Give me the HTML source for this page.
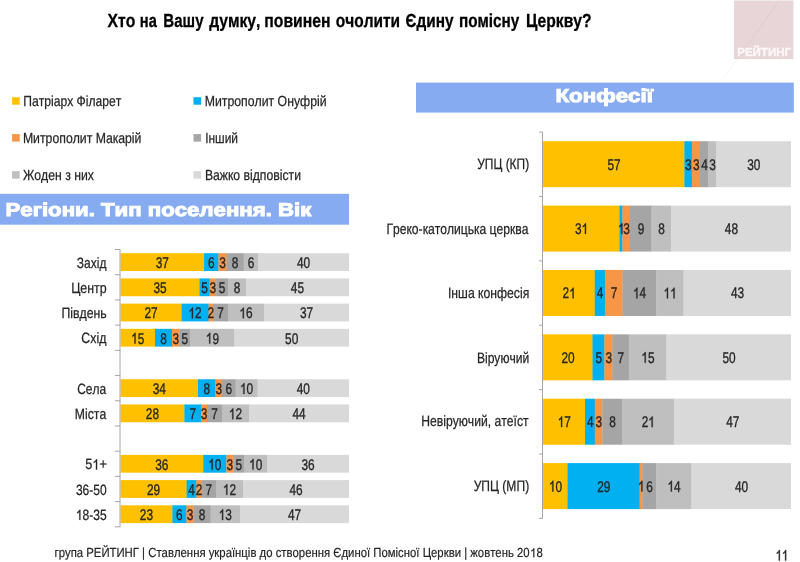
<!DOCTYPE html>
<html><head><meta charset="utf-8"><style>
html,body{margin:0;padding:0;background:#fff;}
svg{display:block;font-family:"Liberation Sans", sans-serif;will-change:transform;font-kerning:none;text-rendering:geometricPrecision;}
</style></head><body>
<svg width="800" height="562" viewBox="0 0 800 562">
<rect width="800" height="562" fill="#fff"/>

<rect x="734.00" y="0.50" width="59.40" height="58.60" fill="#e7d5d8" />
<line x1="779.20" y1="0.50" x2="737.50" y2="59.00" stroke="#ddcbce" stroke-width="0.80" />
<text transform="translate(737.23 56.20) scale(0.9928 1)" font-size="11.60" font-weight="bold" fill="#fcf7f7" stroke="#fcf7f7" stroke-width="0.40">РЕЙТИНГ</text>
<line x1="737.50" y1="59.00" x2="724.00" y2="78.00" stroke="#f0f0f0" stroke-width="0.70" />
<text transform="translate(107.61 26.50) scale(0.8307 1)" font-size="18.90" font-weight="bold" fill="#000" stroke="#000" stroke-width="0.30">Хто</text>
<text transform="translate(139.83 26.50) scale(0.7743 1)" font-size="18.90" font-weight="bold" fill="#000" stroke="#000" stroke-width="0.30">на</text>
<text transform="translate(163.34 26.50) scale(0.7970 1)" font-size="18.90" font-weight="bold" fill="#000" stroke="#000" stroke-width="0.30">Вашу</text>
<text transform="translate(209.24 26.50) scale(0.8289 1)" font-size="18.90" font-weight="bold" fill="#000" stroke="#000" stroke-width="0.30">думку,</text>
<text transform="translate(264.25 26.50) scale(0.8335 1)" font-size="18.90" font-weight="bold" fill="#000" stroke="#000" stroke-width="0.30">повинен</text>
<text transform="translate(335.75 26.50) scale(0.8195 1)" font-size="18.90" font-weight="bold" fill="#000" stroke="#000" stroke-width="0.30">очолити</text>
<text transform="translate(405.62 26.50) scale(0.8139 1)" font-size="18.90" font-weight="bold" fill="#000" stroke="#000" stroke-width="0.30">Єдину</text>
<text transform="translate(458.98 26.50) scale(0.8093 1)" font-size="18.90" font-weight="bold" fill="#000" stroke="#000" stroke-width="0.30">помісну</text>
<text transform="translate(526.10 26.50) scale(0.8285 1)" font-size="18.90" font-weight="bold" fill="#000" stroke="#000" stroke-width="0.30">Церкву?</text>
<rect x="12.10" y="97.20" width="7.60" height="7.50" fill="#ffc000" />
<text transform="translate(23.22 105.60) scale(0.8309 1)" font-size="14.60" font-weight="normal" fill="#262626" stroke="#262626" stroke-width="0.25">Патріарх Філарет</text>
<rect x="193.50" y="97.20" width="7.60" height="7.50" fill="#00b0f0" />
<text transform="translate(204.69 105.60) scale(0.8415 1)" font-size="14.60" font-weight="normal" fill="#262626" stroke="#262626" stroke-width="0.25">Митрополит Онуфрій</text>
<rect x="12.10" y="134.10" width="7.60" height="7.50" fill="#f79646" />
<text transform="translate(22.89 142.60) scale(0.8409 1)" font-size="14.60" font-weight="normal" fill="#262626" stroke="#262626" stroke-width="0.25">Митрополит Макарій</text>
<rect x="193.50" y="134.10" width="7.60" height="7.50" fill="#a5a5a5" />
<text transform="translate(205.20 142.60) scale(0.8178 1)" font-size="14.60" font-weight="normal" fill="#262626" stroke="#262626" stroke-width="0.25">Інший</text>
<rect x="12.10" y="171.20" width="7.60" height="7.50" fill="#bfbfbf" />
<text transform="translate(22.93 179.90) scale(0.8390 1)" font-size="14.60" font-weight="normal" fill="#262626" stroke="#262626" stroke-width="0.25">Жоден з них</text>
<rect x="193.50" y="171.20" width="7.60" height="7.50" fill="#d9d9d9" />
<text transform="translate(204.90 179.90) scale(0.8370 1)" font-size="14.60" font-weight="normal" fill="#262626" stroke="#262626" stroke-width="0.25">Важко відповісти</text>
<rect x="0.00" y="193.80" width="349.00" height="30.90" fill="#86abf1" />
<text transform="translate(5.51 215.90) scale(1.1937 1)" font-size="18.60" font-weight="bold" fill="#fff" stroke="#fff" stroke-width="1.00">Регіони. Тип поселення. Вік</text>
<rect x="416.00" y="82.60" width="377.80" height="30.00" fill="#86abf1" />
<text transform="translate(555.51 102.40) scale(1.1990 1)" font-size="18.60" font-weight="bold" fill="#fff" stroke="#fff" stroke-width="1.00">Конфесії</text>
<rect x="120.50" y="253.20" width="83.90" height="17.80" fill="#ffc000" />
<rect x="204.10" y="253.20" width="14.60" height="17.80" fill="#00b0f0" />
<rect x="218.40" y="253.20" width="8.50" height="17.80" fill="#f79646" />
<rect x="226.60" y="253.20" width="17.40" height="17.80" fill="#a5a5a5" />
<rect x="243.70" y="253.20" width="14.80" height="17.80" fill="#bfbfbf" />
<rect x="258.20" y="253.20" width="90.80" height="17.80" fill="#d9d9d9" />
<text transform="translate(155.71 267.90) scale(0.7650 1)" font-size="15.50" fill="#262626" stroke="#262626" stroke-width="0.35">3</text>
<text transform="translate(162.30 267.90) scale(0.7650 1)" font-size="15.50" fill="#262626" stroke="#262626" stroke-width="0.35">7</text>
<text transform="translate(207.95 267.90) scale(0.7650 1)" font-size="15.50" fill="#262626" stroke="#262626" stroke-width="0.35">6</text>
<text transform="translate(219.20 267.90) scale(0.7650 1)" font-size="15.50" fill="#262626" stroke="#262626" stroke-width="0.35">3</text>
<text transform="translate(231.85 267.90) scale(0.7650 1)" font-size="15.50" fill="#262626" stroke="#262626" stroke-width="0.35">8</text>
<text transform="translate(247.65 267.90) scale(0.7650 1)" font-size="15.50" fill="#262626" stroke="#262626" stroke-width="0.35">6</text>
<text transform="translate(297.01 267.90) scale(0.7650 1)" font-size="15.50" fill="#262626" stroke="#262626" stroke-width="0.35">4</text>
<text transform="translate(303.60 267.90) scale(0.7650 1)" font-size="15.50" fill="#262626" stroke="#262626" stroke-width="0.35">0</text>
<text transform="translate(76.81 267.80) scale(0.8056 1)" font-size="14.90" font-weight="normal" fill="#262626" stroke="#262626" stroke-width="0.25">Захід</text>
<rect x="120.50" y="278.41" width="79.30" height="17.80" fill="#ffc000" />
<rect x="199.50" y="278.41" width="10.40" height="17.80" fill="#00b0f0" />
<rect x="209.60" y="278.41" width="6.90" height="17.80" fill="#f79646" />
<rect x="216.20" y="278.41" width="12.20" height="17.80" fill="#a5a5a5" />
<rect x="228.10" y="278.41" width="18.10" height="17.80" fill="#bfbfbf" />
<rect x="245.90" y="278.41" width="103.10" height="17.80" fill="#d9d9d9" />
<text transform="translate(153.41 293.11) scale(0.7650 1)" font-size="15.50" fill="#262626" stroke="#262626" stroke-width="0.35">3</text>
<text transform="translate(160.00 293.11) scale(0.7650 1)" font-size="15.50" fill="#262626" stroke="#262626" stroke-width="0.35">5</text>
<text transform="translate(201.25 293.11) scale(0.7650 1)" font-size="15.50" fill="#262626" stroke="#262626" stroke-width="0.35">5</text>
<text transform="translate(209.60 293.11) scale(0.7650 1)" font-size="15.50" fill="#262626" stroke="#262626" stroke-width="0.35">3</text>
<text transform="translate(218.85 293.11) scale(0.7650 1)" font-size="15.50" fill="#262626" stroke="#262626" stroke-width="0.35">5</text>
<text transform="translate(233.70 293.11) scale(0.7650 1)" font-size="15.50" fill="#262626" stroke="#262626" stroke-width="0.35">8</text>
<text transform="translate(290.86 293.11) scale(0.7650 1)" font-size="15.50" fill="#262626" stroke="#262626" stroke-width="0.35">4</text>
<text transform="translate(297.45 293.11) scale(0.7650 1)" font-size="15.50" fill="#262626" stroke="#262626" stroke-width="0.35">5</text>
<text transform="translate(71.18 293.01) scale(0.8333 1)" font-size="14.90" font-weight="normal" fill="#262626" stroke="#262626" stroke-width="0.25">Центр</text>
<rect x="120.50" y="303.62" width="61.40" height="17.80" fill="#ffc000" />
<rect x="181.60" y="303.62" width="27.30" height="17.80" fill="#00b0f0" />
<rect x="208.60" y="303.62" width="4.70" height="17.80" fill="#f79646" />
<rect x="213.00" y="303.62" width="15.30" height="17.80" fill="#a5a5a5" />
<rect x="228.00" y="303.62" width="36.30" height="17.80" fill="#bfbfbf" />
<rect x="264.00" y="303.62" width="85.00" height="17.80" fill="#d9d9d9" />
<text transform="translate(144.46 318.32) scale(0.7650 1)" font-size="15.50" fill="#262626" stroke="#262626" stroke-width="0.35">2</text>
<text transform="translate(151.05 318.32) scale(0.7650 1)" font-size="15.50" fill="#262626" stroke="#262626" stroke-width="0.35">7</text>
<path d="M763 0L583 0L583 1147Q518 1085 412.5 1023Q307 961 223 930L223 1104Q374 1175 472.5 1263Q571 1351 627 1466L763 1466Z" transform="translate(188.51 318.32) scale(0.00579 -0.00727)" fill="#262626" stroke="#262626" stroke-width="0.35" vector-effect="non-scaling-stroke"/>
<text transform="translate(195.10 318.32) scale(0.7650 1)" font-size="15.50" fill="#262626" stroke="#262626" stroke-width="0.35">2</text>
<text transform="translate(207.50 318.32) scale(0.7650 1)" font-size="15.50" fill="#262626" stroke="#262626" stroke-width="0.35">2</text>
<text transform="translate(217.20 318.32) scale(0.7650 1)" font-size="15.50" fill="#262626" stroke="#262626" stroke-width="0.35">7</text>
<path d="M763 0L583 0L583 1147Q518 1085 412.5 1023Q307 961 223 930L223 1104Q374 1175 472.5 1263Q571 1351 627 1466L763 1466Z" transform="translate(239.41 318.32) scale(0.00579 -0.00727)" fill="#262626" stroke="#262626" stroke-width="0.35" vector-effect="non-scaling-stroke"/>
<text transform="translate(246.00 318.32) scale(0.7650 1)" font-size="15.50" fill="#262626" stroke="#262626" stroke-width="0.35">6</text>
<text transform="translate(299.91 318.32) scale(0.7650 1)" font-size="15.50" fill="#262626" stroke="#262626" stroke-width="0.35">3</text>
<text transform="translate(306.50 318.32) scale(0.7650 1)" font-size="15.50" fill="#262626" stroke="#262626" stroke-width="0.35">7</text>
<text transform="translate(61.40 318.22) scale(0.8250 1)" font-size="14.90" font-weight="normal" fill="#262626" stroke="#262626" stroke-width="0.25">Південь</text>
<rect x="120.50" y="328.83" width="34.80" height="17.80" fill="#ffc000" />
<rect x="155.00" y="328.83" width="17.30" height="17.80" fill="#00b0f0" />
<rect x="172.00" y="328.83" width="7.70" height="17.80" fill="#f79646" />
<rect x="179.40" y="328.83" width="11.30" height="17.80" fill="#a5a5a5" />
<rect x="190.40" y="328.83" width="44.30" height="17.80" fill="#bfbfbf" />
<rect x="234.40" y="328.83" width="114.60" height="17.80" fill="#d9d9d9" />
<path d="M763 0L583 0L583 1147Q518 1085 412.5 1023Q307 961 223 930L223 1104Q374 1175 472.5 1263Q571 1351 627 1466L763 1466Z" transform="translate(131.16 343.53) scale(0.00579 -0.00727)" fill="#262626" stroke="#262626" stroke-width="0.35" vector-effect="non-scaling-stroke"/>
<text transform="translate(137.75 343.53) scale(0.7650 1)" font-size="15.50" fill="#262626" stroke="#262626" stroke-width="0.35">5</text>
<text transform="translate(160.20 343.53) scale(0.7650 1)" font-size="15.50" fill="#262626" stroke="#262626" stroke-width="0.35">8</text>
<text transform="translate(172.40 343.53) scale(0.7650 1)" font-size="15.50" fill="#262626" stroke="#262626" stroke-width="0.35">3</text>
<text transform="translate(181.60 343.53) scale(0.7650 1)" font-size="15.50" fill="#262626" stroke="#262626" stroke-width="0.35">5</text>
<path d="M763 0L583 0L583 1147Q518 1085 412.5 1023Q307 961 223 930L223 1104Q374 1175 472.5 1263Q571 1351 627 1466L763 1466Z" transform="translate(205.81 343.53) scale(0.00579 -0.00727)" fill="#262626" stroke="#262626" stroke-width="0.35" vector-effect="non-scaling-stroke"/>
<text transform="translate(212.40 343.53) scale(0.7650 1)" font-size="15.50" fill="#262626" stroke="#262626" stroke-width="0.35">9</text>
<text transform="translate(285.11 343.53) scale(0.7650 1)" font-size="15.50" fill="#262626" stroke="#262626" stroke-width="0.35">5</text>
<text transform="translate(291.70 343.53) scale(0.7650 1)" font-size="15.50" fill="#262626" stroke="#262626" stroke-width="0.35">0</text>
<text transform="translate(81.37 343.43) scale(0.8287 1)" font-size="14.90" font-weight="normal" fill="#262626" stroke="#262626" stroke-width="0.25">Схід</text>
<rect x="120.50" y="379.25" width="77.80" height="17.80" fill="#ffc000" />
<rect x="198.00" y="379.25" width="17.70" height="17.80" fill="#00b0f0" />
<rect x="215.40" y="379.25" width="6.90" height="17.80" fill="#f79646" />
<rect x="222.00" y="379.25" width="13.90" height="17.80" fill="#a5a5a5" />
<rect x="235.60" y="379.25" width="22.30" height="17.80" fill="#bfbfbf" />
<rect x="257.60" y="379.25" width="91.40" height="17.80" fill="#d9d9d9" />
<text transform="translate(152.66 393.95) scale(0.7650 1)" font-size="15.50" fill="#262626" stroke="#262626" stroke-width="0.35">3</text>
<text transform="translate(159.25 393.95) scale(0.7650 1)" font-size="15.50" fill="#262626" stroke="#262626" stroke-width="0.35">4</text>
<text transform="translate(203.40 393.95) scale(0.7650 1)" font-size="15.50" fill="#262626" stroke="#262626" stroke-width="0.35">8</text>
<text transform="translate(215.40 393.95) scale(0.7650 1)" font-size="15.50" fill="#262626" stroke="#262626" stroke-width="0.35">3</text>
<text transform="translate(225.50 393.95) scale(0.7650 1)" font-size="15.50" fill="#262626" stroke="#262626" stroke-width="0.35">6</text>
<path d="M763 0L583 0L583 1147Q518 1085 412.5 1023Q307 961 223 930L223 1104Q374 1175 472.5 1263Q571 1351 627 1466L763 1466Z" transform="translate(240.01 393.95) scale(0.00579 -0.00727)" fill="#262626" stroke="#262626" stroke-width="0.35" vector-effect="non-scaling-stroke"/>
<text transform="translate(246.60 393.95) scale(0.7650 1)" font-size="15.50" fill="#262626" stroke="#262626" stroke-width="0.35">0</text>
<text transform="translate(296.71 393.95) scale(0.7650 1)" font-size="15.50" fill="#262626" stroke="#262626" stroke-width="0.35">4</text>
<text transform="translate(303.30 393.95) scale(0.7650 1)" font-size="15.50" fill="#262626" stroke="#262626" stroke-width="0.35">0</text>
<text transform="translate(77.19 393.85) scale(0.8052 1)" font-size="14.90" font-weight="normal" fill="#262626" stroke="#262626" stroke-width="0.25">Села</text>
<rect x="120.50" y="404.46" width="64.20" height="17.80" fill="#ffc000" />
<rect x="184.40" y="404.46" width="16.90" height="17.80" fill="#00b0f0" />
<rect x="201.00" y="404.46" width="6.30" height="17.80" fill="#f79646" />
<rect x="207.00" y="404.46" width="15.30" height="17.80" fill="#a5a5a5" />
<rect x="222.00" y="404.46" width="27.30" height="17.80" fill="#bfbfbf" />
<rect x="249.00" y="404.46" width="100.00" height="17.80" fill="#d9d9d9" />
<text transform="translate(145.86 419.16) scale(0.7650 1)" font-size="15.50" fill="#262626" stroke="#262626" stroke-width="0.35">2</text>
<text transform="translate(152.45 419.16) scale(0.7650 1)" font-size="15.50" fill="#262626" stroke="#262626" stroke-width="0.35">8</text>
<text transform="translate(189.40 419.16) scale(0.7650 1)" font-size="15.50" fill="#262626" stroke="#262626" stroke-width="0.35">7</text>
<text transform="translate(200.70 419.16) scale(0.7650 1)" font-size="15.50" fill="#262626" stroke="#262626" stroke-width="0.35">3</text>
<text transform="translate(211.20 419.16) scale(0.7650 1)" font-size="15.50" fill="#262626" stroke="#262626" stroke-width="0.35">7</text>
<path d="M763 0L583 0L583 1147Q518 1085 412.5 1023Q307 961 223 930L223 1104Q374 1175 472.5 1263Q571 1351 627 1466L763 1466Z" transform="translate(228.91 419.16) scale(0.00579 -0.00727)" fill="#262626" stroke="#262626" stroke-width="0.35" vector-effect="non-scaling-stroke"/>
<text transform="translate(235.50 419.16) scale(0.7650 1)" font-size="15.50" fill="#262626" stroke="#262626" stroke-width="0.35">2</text>
<text transform="translate(292.41 419.16) scale(0.7650 1)" font-size="15.50" fill="#262626" stroke="#262626" stroke-width="0.35">4</text>
<text transform="translate(299.00 419.16) scale(0.7650 1)" font-size="15.50" fill="#262626" stroke="#262626" stroke-width="0.35">4</text>
<text transform="translate(74.80 419.06) scale(0.8203 1)" font-size="14.90" font-weight="normal" fill="#262626" stroke="#262626" stroke-width="0.25">Міста</text>
<rect x="120.50" y="454.88" width="83.00" height="17.80" fill="#ffc000" />
<rect x="203.20" y="454.88" width="23.50" height="17.80" fill="#00b0f0" />
<rect x="226.40" y="454.88" width="7.30" height="17.80" fill="#f79646" />
<rect x="233.40" y="454.88" width="11.30" height="17.80" fill="#a5a5a5" />
<rect x="244.40" y="454.88" width="22.90" height="17.80" fill="#bfbfbf" />
<rect x="267.00" y="454.88" width="82.00" height="17.80" fill="#d9d9d9" />
<text transform="translate(155.26 469.58) scale(0.7650 1)" font-size="15.50" fill="#262626" stroke="#262626" stroke-width="0.35">3</text>
<text transform="translate(161.85 469.58) scale(0.7650 1)" font-size="15.50" fill="#262626" stroke="#262626" stroke-width="0.35">6</text>
<path d="M763 0L583 0L583 1147Q518 1085 412.5 1023Q307 961 223 930L223 1104Q374 1175 472.5 1263Q571 1351 627 1466L763 1466Z" transform="translate(208.21 469.58) scale(0.00579 -0.00727)" fill="#262626" stroke="#262626" stroke-width="0.35" vector-effect="non-scaling-stroke"/>
<text transform="translate(214.80 469.58) scale(0.7650 1)" font-size="15.50" fill="#262626" stroke="#262626" stroke-width="0.35">0</text>
<text transform="translate(226.60 469.58) scale(0.7650 1)" font-size="15.50" fill="#262626" stroke="#262626" stroke-width="0.35">3</text>
<text transform="translate(235.60 469.58) scale(0.7650 1)" font-size="15.50" fill="#262626" stroke="#262626" stroke-width="0.35">5</text>
<path d="M763 0L583 0L583 1147Q518 1085 412.5 1023Q307 961 223 930L223 1104Q374 1175 472.5 1263Q571 1351 627 1466L763 1466Z" transform="translate(249.11 469.58) scale(0.00579 -0.00727)" fill="#262626" stroke="#262626" stroke-width="0.35" vector-effect="non-scaling-stroke"/>
<text transform="translate(255.70 469.58) scale(0.7650 1)" font-size="15.50" fill="#262626" stroke="#262626" stroke-width="0.35">0</text>
<text transform="translate(301.41 469.58) scale(0.7650 1)" font-size="15.50" fill="#262626" stroke="#262626" stroke-width="0.35">3</text>
<text transform="translate(308.00 469.58) scale(0.7650 1)" font-size="15.50" fill="#262626" stroke="#262626" stroke-width="0.35">6</text>
<g transform="translate(85.29 469.48) scale(0.8520 1)" font-size="14.90" fill="#262626"><text x="0.000" y="0" stroke="#262626" stroke-width="0.25">5</text><path d="M763 0L583 0L583 1147Q518 1085 412.5 1023Q307 961 223 930L223 1104Q374 1175 472.5 1263Q571 1351 627 1466L763 1466Z" transform="translate(8.287 0) scale(0.00728 -0.00699)" stroke="#262626" stroke-width="0.25" vector-effect="non-scaling-stroke"/><text x="16.573" y="0" stroke="#262626" stroke-width="0.25">+</text></g>
<rect x="120.50" y="480.09" width="66.40" height="17.80" fill="#ffc000" />
<rect x="186.60" y="480.09" width="10.10" height="17.80" fill="#00b0f0" />
<rect x="196.40" y="480.09" width="5.50" height="17.80" fill="#f79646" />
<rect x="201.60" y="480.09" width="14.70" height="17.80" fill="#a5a5a5" />
<rect x="216.00" y="480.09" width="27.30" height="17.80" fill="#bfbfbf" />
<rect x="243.00" y="480.09" width="106.00" height="17.80" fill="#d9d9d9" />
<text transform="translate(146.96 494.79) scale(0.7650 1)" font-size="15.50" fill="#262626" stroke="#262626" stroke-width="0.35">2</text>
<text transform="translate(153.55 494.79) scale(0.7650 1)" font-size="15.50" fill="#262626" stroke="#262626" stroke-width="0.35">9</text>
<text transform="translate(188.20 494.79) scale(0.7650 1)" font-size="15.50" fill="#262626" stroke="#262626" stroke-width="0.35">4</text>
<text transform="translate(195.70 494.79) scale(0.7650 1)" font-size="15.50" fill="#262626" stroke="#262626" stroke-width="0.35">2</text>
<text transform="translate(205.50 494.79) scale(0.7650 1)" font-size="15.50" fill="#262626" stroke="#262626" stroke-width="0.35">7</text>
<path d="M763 0L583 0L583 1147Q518 1085 412.5 1023Q307 961 223 930L223 1104Q374 1175 472.5 1263Q571 1351 627 1466L763 1466Z" transform="translate(222.91 494.79) scale(0.00579 -0.00727)" fill="#262626" stroke="#262626" stroke-width="0.35" vector-effect="non-scaling-stroke"/>
<text transform="translate(229.50 494.79) scale(0.7650 1)" font-size="15.50" fill="#262626" stroke="#262626" stroke-width="0.35">2</text>
<text transform="translate(289.41 494.79) scale(0.7650 1)" font-size="15.50" fill="#262626" stroke="#262626" stroke-width="0.35">4</text>
<text transform="translate(296.00 494.79) scale(0.7650 1)" font-size="15.50" fill="#262626" stroke="#262626" stroke-width="0.35">6</text>
<text transform="translate(75.94 494.69) scale(0.8063 1)" font-size="14.90" font-weight="normal" fill="#262626" stroke="#262626" stroke-width="0.25">36-50</text>
<rect x="120.50" y="505.30" width="52.20" height="17.80" fill="#ffc000" />
<rect x="172.40" y="505.30" width="14.30" height="17.80" fill="#00b0f0" />
<rect x="186.40" y="505.30" width="7.50" height="17.80" fill="#f79646" />
<rect x="193.60" y="505.30" width="17.30" height="17.80" fill="#a5a5a5" />
<rect x="210.60" y="505.30" width="29.70" height="17.80" fill="#bfbfbf" />
<rect x="240.00" y="505.30" width="109.00" height="17.80" fill="#d9d9d9" />
<text transform="translate(139.86 520.00) scale(0.7650 1)" font-size="15.50" fill="#262626" stroke="#262626" stroke-width="0.35">2</text>
<text transform="translate(146.45 520.00) scale(0.7650 1)" font-size="15.50" fill="#262626" stroke="#262626" stroke-width="0.35">3</text>
<text transform="translate(176.10 520.00) scale(0.7650 1)" font-size="15.50" fill="#262626" stroke="#262626" stroke-width="0.35">6</text>
<text transform="translate(186.70 520.00) scale(0.7650 1)" font-size="15.50" fill="#262626" stroke="#262626" stroke-width="0.35">3</text>
<text transform="translate(198.80 520.00) scale(0.7650 1)" font-size="15.50" fill="#262626" stroke="#262626" stroke-width="0.35">8</text>
<path d="M763 0L583 0L583 1147Q518 1085 412.5 1023Q307 961 223 930L223 1104Q374 1175 472.5 1263Q571 1351 627 1466L763 1466Z" transform="translate(218.71 520.00) scale(0.00579 -0.00727)" fill="#262626" stroke="#262626" stroke-width="0.35" vector-effect="non-scaling-stroke"/>
<text transform="translate(225.30 520.00) scale(0.7650 1)" font-size="15.50" fill="#262626" stroke="#262626" stroke-width="0.35">3</text>
<text transform="translate(287.91 520.00) scale(0.7650 1)" font-size="15.50" fill="#262626" stroke="#262626" stroke-width="0.35">4</text>
<text transform="translate(294.50 520.00) scale(0.7650 1)" font-size="15.50" fill="#262626" stroke="#262626" stroke-width="0.35">7</text>
<g transform="translate(75.89 519.90) scale(0.8087 1)" font-size="14.90" fill="#262626"><path d="M763 0L583 0L583 1147Q518 1085 412.5 1023Q307 961 223 930L223 1104Q374 1175 472.5 1263Q571 1351 627 1466L763 1466Z" transform="translate(0.000 0) scale(0.00728 -0.00699)" stroke="#262626" stroke-width="0.25" vector-effect="non-scaling-stroke"/><text x="8.287" y="0" stroke="#262626" stroke-width="0.25">8-35</text></g>
<line x1="120.00" y1="249.50" x2="120.00" y2="526.81" stroke="#a6a6a6" stroke-width="1.00" />
<line x1="115.00" y1="249.50" x2="120.30" y2="249.50" stroke="#a6a6a6" stroke-width="1.00" />
<line x1="115.00" y1="274.71" x2="120.30" y2="274.71" stroke="#a6a6a6" stroke-width="1.00" />
<line x1="115.00" y1="299.92" x2="120.30" y2="299.92" stroke="#a6a6a6" stroke-width="1.00" />
<line x1="115.00" y1="325.13" x2="120.30" y2="325.13" stroke="#a6a6a6" stroke-width="1.00" />
<line x1="115.00" y1="350.34" x2="120.30" y2="350.34" stroke="#a6a6a6" stroke-width="1.00" />
<line x1="115.00" y1="375.55" x2="120.30" y2="375.55" stroke="#a6a6a6" stroke-width="1.00" />
<line x1="115.00" y1="400.76" x2="120.30" y2="400.76" stroke="#a6a6a6" stroke-width="1.00" />
<line x1="115.00" y1="425.97" x2="120.30" y2="425.97" stroke="#a6a6a6" stroke-width="1.00" />
<line x1="115.00" y1="451.18" x2="120.30" y2="451.18" stroke="#a6a6a6" stroke-width="1.00" />
<line x1="115.00" y1="476.39" x2="120.30" y2="476.39" stroke="#a6a6a6" stroke-width="1.00" />
<line x1="115.00" y1="501.60" x2="120.30" y2="501.60" stroke="#a6a6a6" stroke-width="1.00" />
<line x1="115.00" y1="526.81" x2="120.30" y2="526.81" stroke="#a6a6a6" stroke-width="1.00" />
<rect x="543.00" y="141.20" width="141.70" height="46.00" fill="#ffc000" />
<rect x="684.40" y="141.20" width="7.70" height="46.00" fill="#00b0f0" />
<rect x="691.80" y="141.20" width="8.50" height="46.00" fill="#f79646" />
<rect x="700.00" y="141.20" width="8.60" height="46.00" fill="#a5a5a5" />
<rect x="708.30" y="141.20" width="8.00" height="46.00" fill="#bfbfbf" />
<rect x="716.00" y="141.20" width="75.00" height="46.00" fill="#d9d9d9" />
<text transform="translate(607.41 169.60) scale(0.7650 1)" font-size="15.50" fill="#262626" stroke="#262626" stroke-width="0.35">5</text>
<text transform="translate(614.00 169.60) scale(0.7650 1)" font-size="15.50" fill="#262626" stroke="#262626" stroke-width="0.35">7</text>
<text transform="translate(685.10 169.60) scale(0.7650 1)" font-size="15.50" fill="#262626" stroke="#262626" stroke-width="0.35">3</text>
<text transform="translate(692.90 169.60) scale(0.7650 1)" font-size="15.50" fill="#262626" stroke="#262626" stroke-width="0.35">3</text>
<text transform="translate(701.15 169.60) scale(0.7650 1)" font-size="15.50" fill="#262626" stroke="#262626" stroke-width="0.35">4</text>
<text transform="translate(709.15 169.60) scale(0.7650 1)" font-size="15.50" fill="#262626" stroke="#262626" stroke-width="0.35">3</text>
<text transform="translate(747.21 169.60) scale(0.7650 1)" font-size="15.50" fill="#262626" stroke="#262626" stroke-width="0.35">3</text>
<text transform="translate(753.80 169.60) scale(0.7650 1)" font-size="15.50" fill="#262626" stroke="#262626" stroke-width="0.35">0</text>
<text transform="translate(477.28 169.20) scale(0.7969 1)" font-size="15.00" font-weight="normal" fill="#262626" stroke="#262626" stroke-width="0.25">УПЦ (КП)</text>
<rect x="543.00" y="205.58" width="76.80" height="46.00" fill="#ffc000" />
<rect x="619.50" y="205.58" width="3.20" height="46.00" fill="#00b0f0" />
<rect x="622.40" y="205.58" width="7.80" height="46.00" fill="#f79646" />
<rect x="629.90" y="205.58" width="21.90" height="46.00" fill="#a5a5a5" />
<rect x="651.50" y="205.58" width="20.00" height="46.00" fill="#bfbfbf" />
<rect x="671.20" y="205.58" width="119.80" height="46.00" fill="#d9d9d9" />
<text transform="translate(574.96 233.98) scale(0.7650 1)" font-size="15.50" fill="#262626" stroke="#262626" stroke-width="0.35">3</text>
<path d="M763 0L583 0L583 1147Q518 1085 412.5 1023Q307 961 223 930L223 1104Q374 1175 472.5 1263Q571 1351 627 1466L763 1466Z" transform="translate(581.55 233.98) scale(0.00579 -0.00727)" fill="#262626" stroke="#262626" stroke-width="0.35" vector-effect="non-scaling-stroke"/>
<path d="M763 0L583 0L583 1147Q518 1085 412.5 1023Q307 961 223 930L223 1104Q374 1175 472.5 1263Q571 1351 627 1466L763 1466Z" transform="translate(617.95 233.98) scale(0.00579 -0.00727)" fill="#262626" stroke="#262626" stroke-width="0.35" vector-effect="non-scaling-stroke"/>
<text transform="translate(623.15 233.98) scale(0.7650 1)" font-size="15.50" fill="#262626" stroke="#262626" stroke-width="0.35">3</text>
<text transform="translate(637.70 233.98) scale(0.7650 1)" font-size="15.50" fill="#262626" stroke="#262626" stroke-width="0.35">9</text>
<text transform="translate(658.35 233.98) scale(0.7650 1)" font-size="15.50" fill="#262626" stroke="#262626" stroke-width="0.35">8</text>
<text transform="translate(724.81 233.98) scale(0.7650 1)" font-size="15.50" fill="#262626" stroke="#262626" stroke-width="0.35">4</text>
<text transform="translate(731.40 233.98) scale(0.7650 1)" font-size="15.50" fill="#262626" stroke="#262626" stroke-width="0.35">8</text>
<text transform="translate(386.51 234.08) scale(0.8081 1)" font-size="15.00" font-weight="normal" fill="#262626" stroke="#262626" stroke-width="0.25">Греко-католицька церква</text>
<rect x="543.00" y="269.96" width="52.10" height="46.00" fill="#ffc000" />
<rect x="594.80" y="269.96" width="10.40" height="46.00" fill="#00b0f0" />
<rect x="604.90" y="269.96" width="17.80" height="46.00" fill="#f79646" />
<rect x="622.40" y="269.96" width="34.10" height="46.00" fill="#a5a5a5" />
<rect x="656.20" y="269.96" width="27.60" height="46.00" fill="#bfbfbf" />
<rect x="683.50" y="269.96" width="107.50" height="46.00" fill="#d9d9d9" />
<text transform="translate(562.61 298.36) scale(0.7650 1)" font-size="15.50" fill="#262626" stroke="#262626" stroke-width="0.35">2</text>
<path d="M763 0L583 0L583 1147Q518 1085 412.5 1023Q307 961 223 930L223 1104Q374 1175 472.5 1263Q571 1351 627 1466L763 1466Z" transform="translate(569.20 298.36) scale(0.00579 -0.00727)" fill="#262626" stroke="#262626" stroke-width="0.35" vector-effect="non-scaling-stroke"/>
<text transform="translate(596.85 298.36) scale(0.7650 1)" font-size="15.50" fill="#262626" stroke="#262626" stroke-width="0.35">4</text>
<text transform="translate(610.65 298.36) scale(0.7650 1)" font-size="15.50" fill="#262626" stroke="#262626" stroke-width="0.35">7</text>
<path d="M763 0L583 0L583 1147Q518 1085 412.5 1023Q307 961 223 930L223 1104Q374 1175 472.5 1263Q571 1351 627 1466L763 1466Z" transform="translate(633.01 298.36) scale(0.00579 -0.00727)" fill="#262626" stroke="#262626" stroke-width="0.35" vector-effect="non-scaling-stroke"/>
<text transform="translate(639.60 298.36) scale(0.7650 1)" font-size="15.50" fill="#262626" stroke="#262626" stroke-width="0.35">4</text>
<path d="M763 0L583 0L583 1147Q518 1085 412.5 1023Q307 961 223 930L223 1104Q374 1175 472.5 1263Q571 1351 627 1466L763 1466Z" transform="translate(663.56 298.36) scale(0.00579 -0.00727)" fill="#262626" stroke="#262626" stroke-width="0.35" vector-effect="non-scaling-stroke"/>
<path d="M763 0L583 0L583 1147Q518 1085 412.5 1023Q307 961 223 930L223 1104Q374 1175 472.5 1263Q571 1351 627 1466L763 1466Z" transform="translate(670.15 298.36) scale(0.00579 -0.00727)" fill="#262626" stroke="#262626" stroke-width="0.35" vector-effect="non-scaling-stroke"/>
<text transform="translate(730.96 298.36) scale(0.7650 1)" font-size="15.50" fill="#262626" stroke="#262626" stroke-width="0.35">4</text>
<text transform="translate(737.55 298.36) scale(0.7650 1)" font-size="15.50" fill="#262626" stroke="#262626" stroke-width="0.35">3</text>
<text transform="translate(447.97 297.96) scale(0.8142 1)" font-size="15.00" font-weight="normal" fill="#262626" stroke="#262626" stroke-width="0.25">Інша конфесія</text>
<rect x="543.00" y="334.34" width="49.80" height="46.00" fill="#ffc000" />
<rect x="592.50" y="334.34" width="12.20" height="46.00" fill="#00b0f0" />
<rect x="604.40" y="334.34" width="8.30" height="46.00" fill="#f79646" />
<rect x="612.40" y="334.34" width="16.70" height="46.00" fill="#a5a5a5" />
<rect x="628.80" y="334.34" width="37.90" height="46.00" fill="#bfbfbf" />
<rect x="666.40" y="334.34" width="124.60" height="46.00" fill="#d9d9d9" />
<text transform="translate(561.46 362.74) scale(0.7650 1)" font-size="15.50" fill="#262626" stroke="#262626" stroke-width="0.35">2</text>
<text transform="translate(568.05 362.74) scale(0.7650 1)" font-size="15.50" fill="#262626" stroke="#262626" stroke-width="0.35">0</text>
<text transform="translate(595.45 362.74) scale(0.7650 1)" font-size="15.50" fill="#262626" stroke="#262626" stroke-width="0.35">5</text>
<text transform="translate(605.40 362.74) scale(0.7650 1)" font-size="15.50" fill="#262626" stroke="#262626" stroke-width="0.35">3</text>
<text transform="translate(617.60 362.74) scale(0.7650 1)" font-size="15.50" fill="#262626" stroke="#262626" stroke-width="0.35">7</text>
<path d="M763 0L583 0L583 1147Q518 1085 412.5 1023Q307 961 223 930L223 1104Q374 1175 472.5 1263Q571 1351 627 1466L763 1466Z" transform="translate(641.31 362.74) scale(0.00579 -0.00727)" fill="#262626" stroke="#262626" stroke-width="0.35" vector-effect="non-scaling-stroke"/>
<text transform="translate(647.90 362.74) scale(0.7650 1)" font-size="15.50" fill="#262626" stroke="#262626" stroke-width="0.35">5</text>
<text transform="translate(722.41 362.74) scale(0.7650 1)" font-size="15.50" fill="#262626" stroke="#262626" stroke-width="0.35">5</text>
<text transform="translate(729.00 362.74) scale(0.7650 1)" font-size="15.50" fill="#262626" stroke="#262626" stroke-width="0.35">0</text>
<text transform="translate(476.91 362.94) scale(0.8050 1)" font-size="15.00" font-weight="normal" fill="#262626" stroke="#262626" stroke-width="0.25">Віруючий</text>
<rect x="543.00" y="398.72" width="42.30" height="46.00" fill="#ffc000" />
<rect x="585.00" y="398.72" width="10.10" height="46.00" fill="#00b0f0" />
<rect x="594.80" y="398.72" width="7.80" height="46.00" fill="#f79646" />
<rect x="602.30" y="398.72" width="20.00" height="46.00" fill="#a5a5a5" />
<rect x="622.00" y="398.72" width="52.20" height="46.00" fill="#bfbfbf" />
<rect x="673.90" y="398.72" width="117.10" height="46.00" fill="#d9d9d9" />
<path d="M763 0L583 0L583 1147Q518 1085 412.5 1023Q307 961 223 930L223 1104Q374 1175 472.5 1263Q571 1351 627 1466L763 1466Z" transform="translate(557.71 427.12) scale(0.00579 -0.00727)" fill="#262626" stroke="#262626" stroke-width="0.35" vector-effect="non-scaling-stroke"/>
<text transform="translate(564.30 427.12) scale(0.7650 1)" font-size="15.50" fill="#262626" stroke="#262626" stroke-width="0.35">7</text>
<text transform="translate(586.90 427.12) scale(0.7650 1)" font-size="15.50" fill="#262626" stroke="#262626" stroke-width="0.35">4</text>
<text transform="translate(595.55 427.12) scale(0.7650 1)" font-size="15.50" fill="#262626" stroke="#262626" stroke-width="0.35">3</text>
<text transform="translate(609.15 427.12) scale(0.7650 1)" font-size="15.50" fill="#262626" stroke="#262626" stroke-width="0.35">8</text>
<text transform="translate(641.66 427.12) scale(0.7650 1)" font-size="15.50" fill="#262626" stroke="#262626" stroke-width="0.35">2</text>
<path d="M763 0L583 0L583 1147Q518 1085 412.5 1023Q307 961 223 930L223 1104Q374 1175 472.5 1263Q571 1351 627 1466L763 1466Z" transform="translate(648.25 427.12) scale(0.00579 -0.00727)" fill="#262626" stroke="#262626" stroke-width="0.35" vector-effect="non-scaling-stroke"/>
<text transform="translate(726.16 427.12) scale(0.7650 1)" font-size="15.50" fill="#262626" stroke="#262626" stroke-width="0.35">4</text>
<text transform="translate(732.75 427.12) scale(0.7650 1)" font-size="15.50" fill="#262626" stroke="#262626" stroke-width="0.35">7</text>
<text transform="translate(421.20 426.22) scale(0.8102 1)" font-size="15.00" font-weight="normal" fill="#262626" stroke="#262626" stroke-width="0.25">Невіруючий, атеїст</text>
<rect x="543.00" y="463.10" width="24.80" height="46.00" fill="#ffc000" />
<rect x="567.50" y="463.10" width="72.40" height="46.00" fill="#00b0f0" />
<rect x="639.60" y="463.10" width="3.10" height="46.00" fill="#f79646" />
<rect x="642.40" y="463.10" width="14.00" height="46.00" fill="#a5a5a5" />
<rect x="656.10" y="463.10" width="35.60" height="46.00" fill="#bfbfbf" />
<rect x="691.40" y="463.10" width="99.60" height="46.00" fill="#d9d9d9" />
<path d="M763 0L583 0L583 1147Q518 1085 412.5 1023Q307 961 223 930L223 1104Q374 1175 472.5 1263Q571 1351 627 1466L763 1466Z" transform="translate(548.96 491.50) scale(0.00579 -0.00727)" fill="#262626" stroke="#262626" stroke-width="0.35" vector-effect="non-scaling-stroke"/>
<text transform="translate(555.55 491.50) scale(0.7650 1)" font-size="15.50" fill="#262626" stroke="#262626" stroke-width="0.35">0</text>
<text transform="translate(597.26 491.50) scale(0.7650 1)" font-size="15.50" fill="#262626" stroke="#262626" stroke-width="0.35">2</text>
<text transform="translate(603.85 491.50) scale(0.7650 1)" font-size="15.50" fill="#262626" stroke="#262626" stroke-width="0.35">9</text>
<path d="M763 0L583 0L583 1147Q518 1085 412.5 1023Q307 961 223 930L223 1104Q374 1175 472.5 1263Q571 1351 627 1466L763 1466Z" transform="translate(638.00 491.50) scale(0.00579 -0.00727)" fill="#262626" stroke="#262626" stroke-width="0.35" vector-effect="non-scaling-stroke"/>
<text transform="translate(646.25 491.50) scale(0.7650 1)" font-size="15.50" fill="#262626" stroke="#262626" stroke-width="0.35">6</text>
<path d="M763 0L583 0L583 1147Q518 1085 412.5 1023Q307 961 223 930L223 1104Q374 1175 472.5 1263Q571 1351 627 1466L763 1466Z" transform="translate(667.46 491.50) scale(0.00579 -0.00727)" fill="#262626" stroke="#262626" stroke-width="0.35" vector-effect="non-scaling-stroke"/>
<text transform="translate(674.05 491.50) scale(0.7650 1)" font-size="15.50" fill="#262626" stroke="#262626" stroke-width="0.35">4</text>
<text transform="translate(734.91 491.50) scale(0.7650 1)" font-size="15.50" fill="#262626" stroke="#262626" stroke-width="0.35">4</text>
<text transform="translate(741.50 491.50) scale(0.7650 1)" font-size="15.50" fill="#262626" stroke="#262626" stroke-width="0.35">0</text>
<text transform="translate(473.68 491.10) scale(0.8058 1)" font-size="15.00" font-weight="normal" fill="#262626" stroke="#262626" stroke-width="0.25">УПЦ (МП)</text>
<line x1="542.50" y1="132.10" x2="542.50" y2="518.38" stroke="#a6a6a6" stroke-width="1.00" />
<line x1="539.00" y1="132.10" x2="542.90" y2="132.10" stroke="#a6a6a6" stroke-width="1.00" />
<line x1="539.00" y1="196.48" x2="542.90" y2="196.48" stroke="#a6a6a6" stroke-width="1.00" />
<line x1="539.00" y1="260.86" x2="542.90" y2="260.86" stroke="#a6a6a6" stroke-width="1.00" />
<line x1="539.00" y1="325.24" x2="542.90" y2="325.24" stroke="#a6a6a6" stroke-width="1.00" />
<line x1="539.00" y1="389.62" x2="542.90" y2="389.62" stroke="#a6a6a6" stroke-width="1.00" />
<line x1="539.00" y1="454.00" x2="542.90" y2="454.00" stroke="#a6a6a6" stroke-width="1.00" />
<line x1="539.00" y1="518.38" x2="542.90" y2="518.38" stroke="#a6a6a6" stroke-width="1.00" />
<g transform="translate(54.51 557.30) scale(0.8604 1)" font-size="13.20" fill="#262626"><text x="0.000" y="0" stroke="#262626" stroke-width="0.20">група РЕЙТИНГ | Ставлення українців до створення Єдиної Помісної Церкви | жовтень 20</text><path d="M763 0L583 0L583 1147Q518 1085 412.5 1023Q307 961 223 930L223 1104Q374 1175 472.5 1263Q571 1351 627 1466L763 1466Z" transform="translate(552.737 0) scale(0.00645 -0.00619)" stroke="#262626" stroke-width="0.20" vector-effect="non-scaling-stroke"/><text x="560.078" y="0" stroke="#262626" stroke-width="0.20">8</text></g>
<path d="M763 0L583 0L583 1147Q518 1085 412.5 1023Q307 961 223 930L223 1104Q374 1175 472.5 1263Q571 1351 627 1466L763 1466Z" transform="translate(775.56 560.40) scale(0.00557 -0.00704)" fill="#262626" stroke="#262626" stroke-width="0.40" vector-effect="non-scaling-stroke"/>
<path d="M763 0L583 0L583 1147Q518 1085 412.5 1023Q307 961 223 930L223 1104Q374 1175 472.5 1263Q571 1351 627 1466L763 1466Z" transform="translate(781.90 560.40) scale(0.00557 -0.00704)" fill="#262626" stroke="#262626" stroke-width="0.40" vector-effect="non-scaling-stroke"/>
</svg>
</body></html>
